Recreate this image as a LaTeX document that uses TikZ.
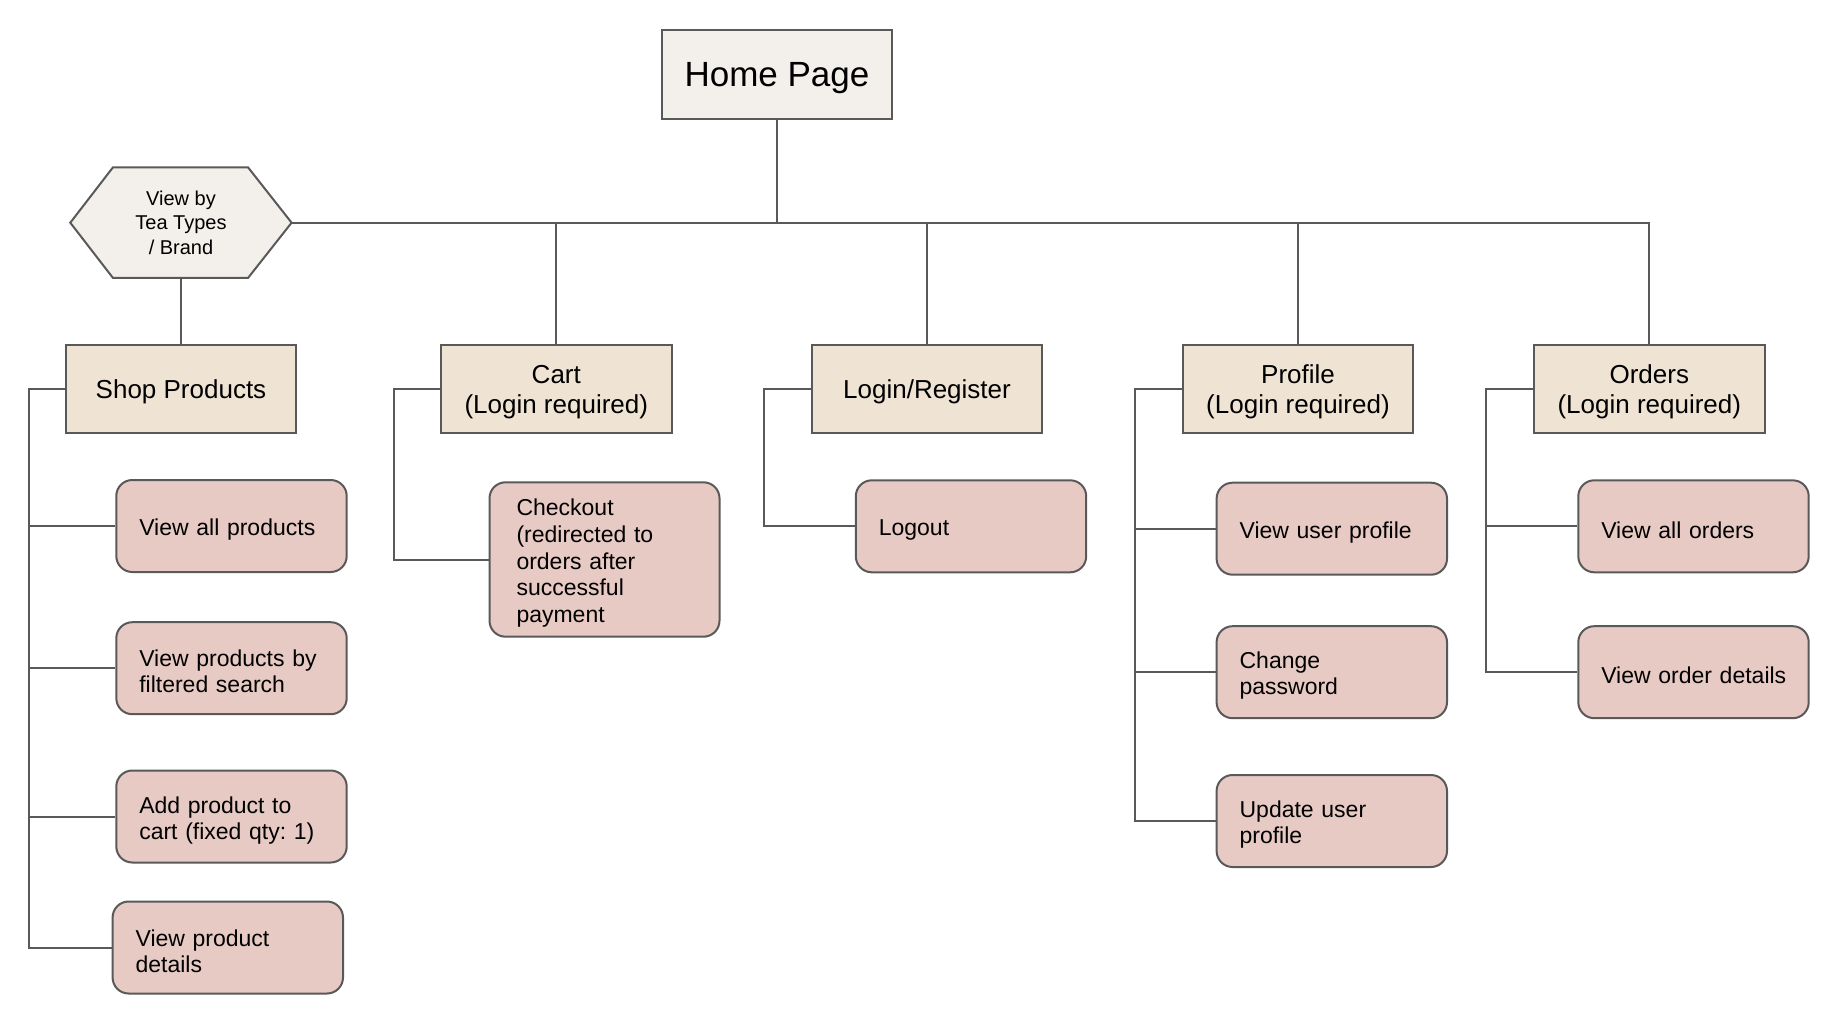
\documentclass[tikz,border=0pt]{standalone}
\usepackage{fontspec}
\setmainfont{Liberation Sans}
\usepackage{tikz}
\definecolor{ligne}{HTML}{595959}
\definecolor{fondhome}{HTML}{F3F0EB}
\definecolor{fondcat}{HTML}{EFE3D4}
\definecolor{fondtache}{HTML}{E8CAC4}
\usetikzlibrary{calc}
\frenchspacing

\begin{document}
\begin{tikzpicture}[x=0.5pt,y=-0.5pt,
  lien/.style={ligne,line width=1pt},
  categorie/.style={draw=ligne,line width=1pt,fill=fondcat,minimum width=115.3pt,
    minimum height=44.3pt,align=center,text depth=0pt,font=\fontsize{13}{15}\selectfont},
  tache/.style={draw=ligne,line width=1pt,fill=fondtache,rounded corners=8pt,
    text width=92.2pt,inner xsep=11.5pt,minimum height=46pt,align=left,
    execute at begin node={\rule{0pt}{11.9pt}},
    font=\fontsize{11.5}{13}\selectfont}]
  \useasboundingbox (0,0) rectangle (1836,1016);

  % Home
\node[draw=ligne,line width=1pt,fill=fondhome,minimum width=115.3pt,minimum height=44.3pt,
  text depth=0pt,font=\fontsize{17.5}{20}\selectfont] (home) at (777,74.4) {Home Page};

  % Hexagone
\coordinate (h1) at (70.3,222.7);
\coordinate (h2) at (113,167.3);
\coordinate (h3) at (248,167.3);
\coordinate (h4) at (291.6,222.7);
\coordinate (h5) at (248,278);
\coordinate (h6) at (113,278);
\coordinate (hb) at (181,278);

  \draw[ligne,line width=1pt,fill=fondhome] (h1) -- (h2) -- (h3) -- (h4) -- (h5) -- (h6) -- cycle;
  \node[align=center,font=\fontsize{10}{12.4}\selectfont] (vue) at (181,222.7) {View by\\Tea Types\\/ Brand};

  % Categories
\node[categorie] (shop) at (181,389) {Shop Products};
\node[categorie] (cart) at (556.3,389) {Cart\\(Login required)};
\node[categorie] (login) at (927,389) {Login/Register};
\node[categorie] (profile) at (1298,389) {Profile\\(Login required)};
\node[categorie] (orders) at (1649.3,389) {Orders\\(Login required)};

  % Taches
\node[tache] (p1) at (231.5,526) {View all products};
\node[tache] (p2) at (231.5,668.2) {View products by\\filtered search};
\node[tache] (p3) at (231.5,816.5) {Add product to\\cart (fixed qty: 1)};
\node[tache] (p4) at (227.8,947.5) {View product\\details};
\node[tache,inner xsep=13.5pt,text width=88pt,minimum height=77.2pt,
  font=\fontsize{11.5}{13.4}\selectfont] (c1) at (604.5,559.5)
  {Checkout\\(redirected to\\orders after\\successful\\payment};
\node[tache] (l1) at (971,526.3) {Logout};
\node[tache] (u1) at (1331.8,528.7) {View user profile};
\node[tache] (u2) at (1331.8,672.2) {Change\\password};
\node[tache] (u3) at (1331.8,821) {Update user\\profile};
\node[tache] (o1) at (1693.5,526.3) {View all orders};
\node[tache] (o2) at (1693.5,672.2) {\mbox{View order details}};

  % Liens
  \draw[lien] (h4) -- (orders.north |- h4) -- (orders.north);
  \draw[lien] (home.south) -- (home.south |- h4);
  \foreach \n in {cart,login,profile}
  {
    \draw[lien] (\n.north) -- (\n.north |- h4);
  }
  \draw[lien] (hb) -- (shop.north);

\coordinate (ps) at (29.3,389);
\coordinate (cs) at (393.5,389);
\coordinate (ls) at (763.6,389);
\coordinate (us) at (1134.6,389);
\coordinate (os) at (1486,389);

  \draw[lien] (shop.west) -- (ps) |- (p4.west);
  \foreach \t in {p1,p2,p3}
  {
    \draw[lien] (ps) |- (\t.west);
  }
  \draw[lien] (cart.west) -- (cs) |- (c1.west);
  \draw[lien] (login.west) -- (ls) |- (l1.west);
  \draw[lien] (profile.west) -- (us) |- (u3.west);
  \draw[lien] (us) |- (u1.west);
  \draw[lien] (us) |- (u2.west);
  \draw[lien] (orders.west) -- (os) |- (o2.west);
  \draw[lien] (os) |- (o1.west);
\end{tikzpicture}
\end{document}
